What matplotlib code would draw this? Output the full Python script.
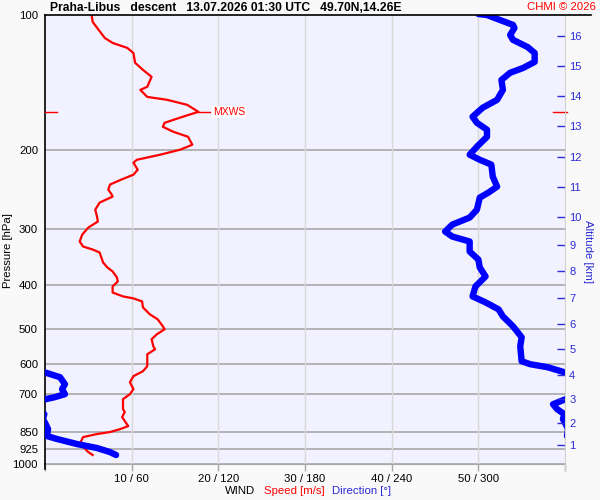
import numpy as np
import matplotlib
matplotlib.use("Agg")
import matplotlib.pyplot as plt
from matplotlib.lines import Line2D
from matplotlib.ticker import NullLocator, FixedLocator, FixedFormatter

plt.rcParams['font.family'] = ['Liberation Sans', 'DejaVu Sans']

# wind speed profile [hPa, m/s]
speed_p = [100.5, 103.6, 108.0, 112.5, 115.4, 118.4, 121.5, 127.8, 132.5, 137.3,
           144.5, 146.8, 152.2, 154.5, 158.5, 164.3, 168.5, 173.8, 177.4, 182.0,
           186.7, 194.5, 199.5, 204.7, 210.1, 213.3, 221.1, 226.8, 232.6, 238.6,
           244.8, 251.2, 253.8, 261.7, 271.4, 281.2, 288.4, 297.4, 308.3, 319.5,
           327.9, 332.9, 338.0, 355.7, 365.0, 372.5, 384.2, 392.2, 402.4, 415.0,
           423.4, 427.7, 434.4, 447.9, 464.2, 476.2, 493.6, 501.2, 514.2, 527.5,
           546.8, 555.3, 569.7, 605.7, 621.4, 637.5, 657.4, 681.3, 699.0, 717.1,
           754.7, 766.3, 786.2, 823.2, 835.9, 848.8, 857.6, 871.0, 902.8, 916.7,
           940.7, 955.0]
speed = [5.4, 5.5, 6.2, 6.9, 7.8, 9.5, 10.2, 10.4, 11.3, 12.3,
         11.8, 11.0, 11.8, 14.1, 16.4, 17.7, 15.9, 13.8, 13.6, 14.8,
         16.5, 17.0, 15.6, 13.3, 10.6, 10.2, 10.7, 10.2, 8.8, 7.5,
         7.3, 7.7, 7.8, 6.3, 5.8, 6.0, 6.1, 5.0, 4.3, 4.0,
         4.4, 5.5, 6.3, 6.7, 7.2, 7.8, 8.3, 8.4, 7.8, 7.8,
         9.0, 10.2, 11.2, 11.3, 12.1, 13.0, 13.6, 13.8, 12.9, 12.3,
         12.5, 12.7, 11.8, 11.8, 11.3, 10.2, 9.8, 10.2, 9.8, 9.0,
         9.0, 9.2, 8.9, 9.6, 8.7, 7.5, 6.0, 4.4, 4.0, 4.4,
         5.0, 5.5]

# wind direction profile [hPa, deg]
dir_p = [99.5, 100.0, 102.6, 105.2, 106.9, 110.8, 113.6, 117.8, 121.5, 127.2,
         131.2, 134.5, 139.5, 146.8, 154.5, 160.9, 168.5, 173.8, 180.1, 186.7,
         196.5, 204.7, 210.1, 215.4, 229.1, 241.1, 248.6, 255.1, 271.4, 282.6,
         292.9, 303.6, 311.5, 319.5, 336.3, 350.4, 365.0, 382.2, 402.4, 423.4,
         436.5, 452.5, 469.0, 493.6, 522.2, 546.8, 590.4, 599.5, 608.8, 624.6,
         640.8, 664.2, 681.3, 699.0, 709.7, 717.1, 736.0, 754.7, 774.3, 794.3,
         815.1, 835.9, 866.5, 879.6, 902.8, 921.3, 940.7, 955.0]
direction = [300, 306, 315, 324, 325, 322, 324, 334, 339, 339,
             331, 322, 316, 317, 313, 303, 296, 299, 306, 306,
             299, 294, 301, 309, 310, 313, 307, 301, 299, 294,
             282, 277, 282, 294, 294, 300, 301, 305, 298, 296,
             305, 314, 317, 324, 330, 329, 330, 336, 348, 359.5,
             10.4, 13.8, 11.8, 13.8, 6.9, 0.5, 351.7, 354.5, 359.5, 358.6,
             0.5, 2.1, 1.4, 8.3, 22.2, 36.0, 45.0, 49.2]

pres_ticks = [100, 200, 300, 400, 500, 600, 700, 850, 925, 1000]
pres_grid = [200, 300, 400, 500, 600, 700, 850, 925, 1000]
speed_ticks = [0, 10, 20, 30, 40, 50, 60]
speed_labels = ["", "10 / 60", "20 / 120", "30 / 180", "40 / 240", "50 / 300", ""]

alt_km = list(range(1, 17))
alt_p = [907.4, 810.9, 717.1, 634.3, 555.3, 488.6, 427.7, 372.5, 324.5, 281.2,
         241.1, 206.8, 176.4, 151.4, 129.8, 111.4]

RED = "#ff0000"
BLUE = "#0000ff"
TBLUE = "#2a2ad6"

fig = plt.figure(figsize=(6, 5), dpi=100, facecolor="#f9f9f9")
ax = fig.add_axes([45 / 600, 36 / 500, 520 / 600, 449 / 500])
ax.set_facecolor("#f1f1ff")
ax.set_yscale("log")
ax.set_ylim(1000, 100)
ax.set_xlim(0, 60)

# twins first so that scale changes do not reset the tick formatting
axd = ax.twiny()
axd.set_xlim(0, 360)
axa = ax.twinx()
axa.set_yscale("log")
axa.set_ylim(1000, 100)

for p in pres_grid:
    ax.axhline(p, color="#a8a8a8", lw=1.2, zorder=1)
for s in speed_ticks[1:-1]:
    ax.axvline(s, color="#d8d8d8", lw=1.0, zorder=1)

ax.yaxis.set_major_locator(FixedLocator(pres_ticks))
ax.yaxis.set_major_formatter(FixedFormatter([str(p) for p in pres_ticks]))
ax.yaxis.set_minor_locator(NullLocator())
ax.tick_params(axis="y", length=0, pad=5, labelsize=8.2, colors="black")
ax.set_xticks(speed_ticks)
ax.set_xticklabels(speed_labels)
ax.tick_params(axis="x", direction="out", length=5, width=1, color="#a8a8a8",
               pad=2, labelsize=8.2)

for side in ["top", "right"]:
    ax.spines[side].set_visible(False)
ax.spines["left"].set_color("black")
ax.spines["left"].set_linewidth(1.2)
ax.spines["bottom"].set_color("#a8a8a8")

# speed
ax.plot(speed, speed_p, color=RED, lw=1.6, zorder=3)

# max wind
i = int(np.argmax(speed))
ax.plot([speed[i], speed[i] + 1.3], [speed_p[i], speed_p[i]], color=RED, lw=1.0, zorder=3)
ax.text(speed[i] + 1.7, speed_p[i], "MXWS", color=RED, fontsize=7.5, va="center", ha="left",
        bbox=dict(facecolor="white", edgecolor="none", pad=0.5), zorder=4)
ax.plot([0, 1.4], [speed_p[i], speed_p[i]], color=RED, lw=1.0, clip_on=False, zorder=3)
ax.plot([58.6, 60.2], [speed_p[i], speed_p[i]], color=RED, lw=1.0, clip_on=False, zorder=3)

# direction (wraps at 0/360)
axd.axis("off")
d = np.unwrap(np.array(direction), period=360)
for off in (-360, 0, 360):
    axd.plot(d + off, dir_p, color=BLUE, lw=4.6, solid_capstyle="round", zorder=5)
axd.set_xlim(0, 360)

# altitude axis
axa.yaxis.set_major_locator(FixedLocator(alt_p))
axa.yaxis.set_major_formatter(FixedFormatter([str(k) for k in alt_km]))
axa.yaxis.set_minor_locator(NullLocator())
axa.tick_params(axis="y", direction="in", length=6, width=1, color=TBLUE,
                labelcolor=TBLUE, pad=3, labelsize=8)
for side in ["top", "left", "bottom"]:
    axa.spines[side].set_visible(False)
axa.spines["right"].set_color("#d0d0d0")

# frame extras
fig.add_artist(Line2D([45 / 600, 591 / 600], [485 / 500, 485 / 500], color="black", lw=1.2))
fig.add_artist(Line2D([45 / 600, 45 / 600], [36 / 500, 31 / 500], color="black", lw=1.2))
fig.add_artist(Line2D([565 / 600, 565 / 600], [36 / 500, 30 / 500], color="#d0d0d0", lw=1.0))

# texts
fig.text(50 / 600, 1 - 8 / 500,
         "Praha-Libus   descent   13.07.2026 01:30 UTC   49.70N,14.26E",
         fontsize=8.7, fontweight="bold", ha="left", va="center")
fig.text(596 / 600, 1 - 7 / 500, "CHMI \u00a9 2026", color=RED, fontsize=8.2,
         ha="right", va="center")
fig.text(8 / 600, 1 - 251 / 500, "Pressure [hPa]", rotation=90, fontsize=8.2,
         ha="center", va="center")
fig.text(588 / 600, 1 - 252 / 500, "Altitude [km]", rotation=270, fontsize=8.2,
         color=TBLUE, ha="center", va="center")
fig.text(225 / 600, 1 - 491 / 500, "WIND", fontsize=8.2, ha="left", va="center")
fig.text(264 / 600, 1 - 491 / 500, "Speed [m/s]", fontsize=8.2, color=RED,
         ha="left", va="center")
fig.text(332 / 600, 1 - 491 / 500, "Direction [\u00b0]", fontsize=8.2, color=TBLUE,
         ha="left", va="center")

fig.savefig("out.png", dpi=100, facecolor=fig.get_facecolor())
